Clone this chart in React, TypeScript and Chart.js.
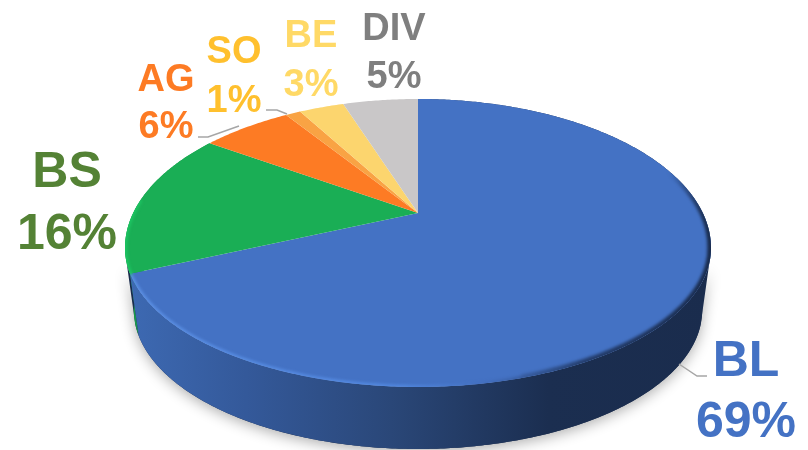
import React, { useEffect, useRef } from "react";
import { Chart, registerables } from "chart.js";

Chart.register(...registerables);

const categories = ["BL", "BS", "AG", "SO", "BE", "DIV"];
const shares = [69, 16, 6, 1, 3, 5];
const percentLabels = ["69%", "16%", "6%", "1%", "3%", "5%"];

const sliceColors = ["#4472c4", "#1aae55", "#fd7b24", "#f9a344", "#fcd56e", "#c9c7c8"];
const textColors = ["#4472c4", "#548235", "#fd7b24", "#ffc02e", "#ffd966", "#7f7f7f"];

// label layout: centre x, baseline of name, baseline of percent, font size
const labelLayout = [
  [746, 376, 437, 50],
  [67, 187, 249, 50],
  [166, 91, 138, 38],
  [234, 63, 112, 38],
  [311, 47, 96, 38],
  [394, 40, 88, 38],
];
const leaderLines = [
  [[679, 364], [697, 376], [707, 376]],
  [[198, 137], [208, 137], [239, 126]],
  [[266, 110], [277, 110], [287, 114]],
];

const CX = 418;
const APEX_Y = 213;
const K = 0.197;
const B = 136.5;
const RX = 293;
const A = RX * Math.sqrt(1 - K * K);
const ELL_Y = 241;
const ELL_RY = 142;
const EGG_Y = 248;
const EGG_TOP = 149;
const EGG_BOTTOM = 139;
const DEPTH = 62;
const BASE_SCALE = 0.97;

const project = (a: number, base = false): [number, number] => {
  const x = Math.cos(a);
  const y = Math.sin(a);
  const w = 1 - K * y;
  const hx = (A * x) / w;
  const hy = APEX_Y + (B * y) / w;
  const t = Math.atan2((hy - ELL_Y) / ELL_RY, hx / RX);
  const s = Math.sin(t);
  const px = RX * Math.cos(t);
  const py = EGG_Y + (s < 0 ? EGG_TOP : EGG_BOTTOM) * s;
  return base ? [CX + px * BASE_SCALE, py + DEPTH] : [CX + px, py];
};

const arcPoints = (start: number, end: number, base = false) => {
  const n = Math.max(2, Math.ceil(Math.abs(end - start) / 0.01));
  const pts: [number, number][] = [];
  for (let i = 0; i <= n; i++) pts.push(project(start + ((end - start) * i) / n, base));
  return pts;
};

const trace = (ctx: CanvasRenderingContext2D, pts: [number, number][], move = true) => {
  pts.forEach((p, i) => {
    if (i === 0 && move) ctx.moveTo(p[0], p[1]);
    else ctx.lineTo(p[0], p[1]);
  });
};

const wallPath = (ctx: CanvasRenderingContext2D, s: number, e: number) => {
  ctx.beginPath();
  trace(ctx, arcPoints(s, e));
  trace(ctx, arcPoints(e, s, true), false);
  ctx.closePath();
};

const lerp = (p: number, q: number, t: number) => p + (q - p) * t;
// bevel colour along the rim, by horizontal position
const bevelStops: [number, number[]][] = [
  [0, [92, 144, 228]],
  [0.45, [82, 136, 224]],
  [0.6, [66, 110, 190]],
  [0.78, [35, 60, 106]],
  [1, [26, 44, 77]],
];
const bevelColor = (f: number) => {
  for (let i = 1; i < bevelStops.length; i++) {
    if (f <= bevelStops[i][0]) {
      const [f0, c0] = bevelStops[i - 1];
      const [f1, c1] = bevelStops[i];
      const t = Math.max(0, (f - f0) / (f1 - f0));
      return c0.map((v, j) => Math.round(lerp(v, c1[j], t)));
    }
  }
  return bevelStops[bevelStops.length - 1][1];
};

const pie3d = {
  id: "pie3d",
  beforeDatasetDraw(chart: any) {
    const ctx: CanvasRenderingContext2D = chart.ctx;
    const arcs = chart.getDatasetMeta(0).data as any[];

    // soft shadow beneath the disc
    ctx.save();
    ctx.shadowColor = "rgba(0,0,0,0.32)";
    ctx.shadowBlur = 14;
    ctx.shadowOffsetY = 3;
    ctx.fillStyle = "#1a2c4d";
    wallPath(ctx, 0.3, Math.PI - 0.3);
    ctx.fill();
    ctx.restore();

    // side walls
    const blueWall = ctx.createLinearGradient(130, 0, 711, 0);
    blueWall.addColorStop(0, "#3d69b2");
    blueWall.addColorStop(0.2, "#34599a");
    blueWall.addColorStop(0.45, "#2a4778");
    blueWall.addColorStop(0.72, "#1b2e50");
    blueWall.addColorStop(1, "#1a2c4d");
    [1, 0].forEach((i) => {
      ctx.fillStyle = i === 0 ? blueWall : "#18994b";
      wallPath(ctx, arcs[i].startAngle, arcs[i].endAngle);
      ctx.fill();
    });

    // top faces
    arcs.forEach((arc, i) => {
      ctx.beginPath();
      ctx.moveTo(CX, APEX_Y);
      trace(ctx, arcPoints(arc.startAngle, arc.endAngle), false);
      ctx.closePath();
      ctx.fillStyle = sliceColors[i];
      ctx.fill();
    });

    // bevel along the rim, drawn off-screen and blurred as a whole
    const off = document.createElement("canvas");
    off.width = chart.width;
    off.height = chart.height;
    const o = off.getContext("2d") as CanvasRenderingContext2D;
    o.lineCap = "round";
    const blue = arcs[0];
    const from = -0.35;
    const bevelPts = arcPoints(from, blue.endAngle);
    for (let i = 1; i < bevelPts.length; i += 2) {
      const p0 = bevelPts[i - 1];
      const p1 = bevelPts[Math.min(i + 1, bevelPts.length - 1)];
      const c = bevelColor((p1[0] - 134) / 577);
      const alpha = Math.min(1, i / 60);
      o.strokeStyle = `rgba(${c[0]},${c[1]},${c[2]},${alpha})`;
      o.lineWidth = p1[0] > 520 ? 7 : 4;
      o.beginPath();
      o.moveTo(p0[0], p0[1]);
      o.lineTo(p1[0], p1[1]);
      o.stroke();
    }
    o.beginPath();
    trace(o, arcPoints(arcs[1].startAngle, arcs[1].startAngle + 0.5));
    o.strokeStyle = "#1cc763";
    o.lineWidth = 4;
    o.stroke();

    // keep the bevel inside the disc and its wall
    ctx.save();
    ctx.beginPath();
    trace(ctx, arcPoints(0, Math.PI * 2).map((p) => [p[0], p[1]] as [number, number]));
    ctx.closePath();
    ctx.clip();
    ctx.filter = "blur(1.5px)";
    ctx.drawImage(off, 0, 0);
    ctx.restore();

    return false;
  },
  afterDatasetsDraw(chart: any) {
    const ctx: CanvasRenderingContext2D = chart.ctx;
    ctx.save();
    ctx.strokeStyle = "#a6a6a6";
    ctx.lineWidth = 1.5;
    leaderLines.forEach((line) => {
      ctx.beginPath();
      line.forEach((p, i) => (i === 0 ? ctx.moveTo(p[0], p[1]) : ctx.lineTo(p[0], p[1])));
      ctx.stroke();
    });
    ctx.textAlign = "center";
    ctx.textBaseline = "alphabetic";
    chart.data.labels.forEach((name: string, i: number) => {
      const [x, y1, y2, size] = labelLayout[i];
      ctx.font = `bold ${size}px "Liberation Sans", Arial, sans-serif`;
      ctx.fillStyle = textColors[i];
      ctx.fillText(name, x, y1);
      ctx.fillText(percentLabels[i], x, y2);
    });
    ctx.restore();
  },
};

export default function App() {
  const ref = useRef<HTMLCanvasElement>(null);
  useEffect(() => {
    const chart = new Chart(ref.current as HTMLCanvasElement, {
      type: "pie",
      data: {
        labels: categories,
        datasets: [{ data: shares, backgroundColor: sliceColors, borderWidth: 0 }],
      },
      options: {
        responsive: false,
        animation: false,
        plugins: { legend: { display: false }, tooltip: { enabled: false } },
      },
      plugins: [pie3d],
    } as any);
    return () => chart.destroy();
  }, []);
  return (
    <canvas
      ref={ref}
      width={808}
      height={450}
      style={{ position: "absolute", left: 0, top: 0, display: "block" }}
    />
  );
}
